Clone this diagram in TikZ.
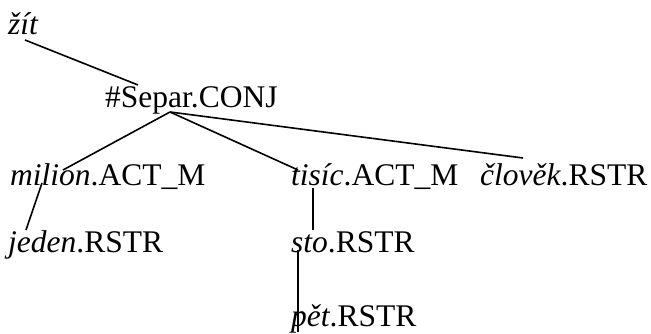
\documentclass[tikz,border=0pt]{standalone}
\usepackage{fontspec}
\setmainfont{Liberation Serif}
\usetikzlibrary{calc}
\tikzset{
  lbl/.style={anchor=base west, inner sep=0pt, font=\fontsize{31.5}{36}\selectfont},
  edge/.style={line width=1.6pt, black}
}
\begin{document}
\begin{tikzpicture}[x=1pt,y=1pt]
\useasboundingbox (0,0) rectangle (651,334);
\node[lbl] (zit) at (8,299) {\textit{žít}};
\node[lbl] (sep) at (105,226) {\#Separ.CONJ};
\node[lbl] (mil) at (10,148) {\textit{milion}.ACT\_M};
\node[lbl] (tis) at (291,148) {\textit{tisíc}.ACT\_M};
\node[lbl] (clo) at (480,148) {\textit{člověk}.RSTR};
\node[lbl] (jed) at (8,81) {\textit{jeden}.RSTR};
\node[lbl] (sto) at (291,81) {\textit{sto}.RSTR};
\node[lbl] (pet) at (291,7) {\textit{pět}.RSTR};
\coordinate (hub) at ($(sep.base west)+(65,-4)$);
\draw[edge] ($(zit.base west)+(17,-5)$) -- ($(sep.base west)+(33,23)$);
\draw[edge] (hub) -- ($(mil.base west)+(53,16)$);
\draw[edge] (hub) -- ($(tis.base west)+(7,16)$);
\draw[edge] (hub) -- ($(clo.base west)+(43,28)$);
\draw[edge] ($(mil.base west)+(32,3)$) -- ($(jed.base west)+(18,23)$);
\draw[edge] ($(tis.base west)+(22,-2)$) -- ($(sto.base west)+(22,23)$);
\draw[edge] ($(sto.base west)+(7,3)$) -- ($(pet.base west)+(7,-5)$);
\end{tikzpicture}
\end{document}
